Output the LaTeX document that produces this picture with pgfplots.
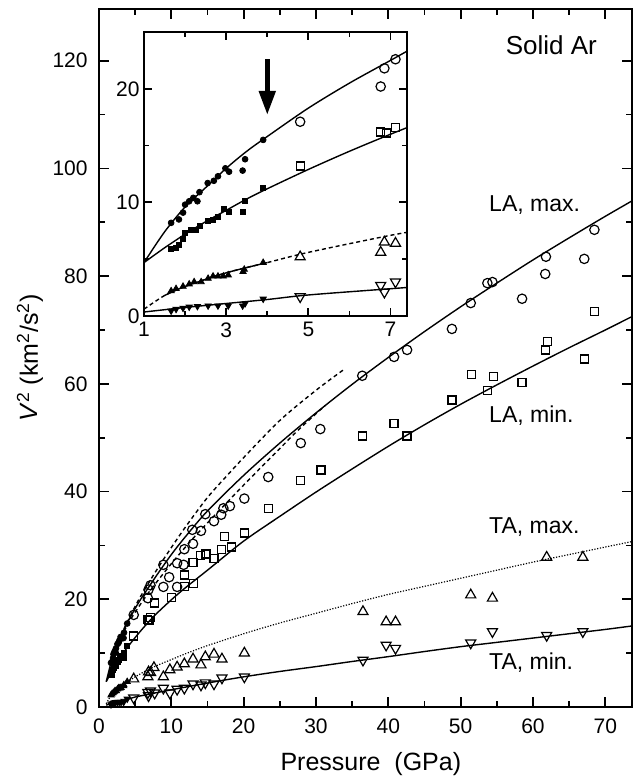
\documentclass[border=0pt]{standalone}
\usepackage{fontspec}
\setmainfont{Liberation Sans}
\usepackage{pgfplots}
\usepackage{pgfplotstable}
\pgfplotsset{compat=1.18}
\usetikzlibrary{arrows.meta}

% ---------- fitted curves ----------
\pgfplotstableread{
x y
1 4.7
1.5 7.4
2 9.6
2.5 11.3
3 13.0
3.5 14.5
4 15.8
5 18.3
6 20.5
7 22.5
8 24.5
10 28.3
12 31.7
15 36.4
20 43.0
25 49.0
30 54.6
35 59.9
40 64.9
45 69.7
50 74.3
55 78.7
60 83.0
65 87.1
70 91.1
74 94.2
}\lamaxfit
\pgfplotstableread{
x y
1 4.7
1.5 6.0
2 7.2
2.5 8.3
3 9.3
3.5 10.3
4 11.2
5 12.9
6 14.5
7 16.0
8 17.4
10 19.9
12 22.2
15 25.4
20 30.8
25 35.4
30 39.9
35 44.2
40 48.4
45 52.4
50 56.2
55 59.8
60 63.3
65 66.7
70 70.0
74 72.7
}\laminfit
\pgfplotstableread{
x y
3 13.3
4 16.0
5 18.7
6 21.1
8 25.5
10 29.6
12 33.5
15 38.9
18 43.4
20 46.3
25 53.2
30 58.8
33.8 62.6
}\dashup
\pgfplotstableread{
x y
3 12.9
4 15.4
5 17.6
7 21.5
10 26.6
13 31.3
16 35.6
20 41.2
25 48.0
28 52.0
31.3 56.0
}\dashlow
\pgfplotstableread{
x y
1 0.6
1.5 1.8
2 2.6
3 3.8
4 4.7
5 5.6
7 7.1
8 7.7
10 8.8
12 9.9
15 11.4
20 13.6
25 15.6
30 17.4
35 19.2
40 20.9
45 22.4
50 23.9
55 25.4
60 26.9
65 28.3
70 29.7
74 30.8
}\tamaxfit
\pgfplotstableread{
x y
1.5 1.8
2 2.6
3 3.8
4 4.7
}\tamaxseg
\pgfplotstableread{
x y
1 0.35
2 0.75
3 1.1
4 1.45
5 1.85
7 2.4
10 3.2
15 4.45
20 5.6
25 6.6
30 7.5
35 8.45
40 9.35
45 10.3
50 11.2
55 12.0
60 12.8
65 13.6
70 14.4
74 15.1
}\taminfit

% ---------- filled data (low pressure) ----------
\pgfplotstableread{
x y
1.66 8.2
1.85 8.5
1.95 9.1
2.0 9.8
2.1 10.1
2.2 10.4
2.3 10.1
2.35 10.9
2.55 11.7
2.7 11.9
2.8 12.3
2.98 13.0
3.07 12.7
3.4 12.8
3.46 13.8
3.9 15.5
}\lamaxfilled
\pgfplotstableread{
x y
1.66 5.9
1.78 6.0
1.85 6.3
1.95 6.8
2.0 7.3
2.15 7.6
2.27 7.6
2.37 7.9
2.55 8.4
2.68 8.5
2.8 8.7
2.95 9.4
3.07 9.2
3.4 9.2
3.46 10.1
3.9 11.3
}\laminfilled
\pgfplotstableread{
x y
1.66 2.2
1.78 2.4
1.95 2.6
2.1 2.8
2.22 3.0
2.39 3.0
2.56 3.3
2.68 3.5
2.8 3.5
2.93 3.5
3.05 3.6
3.41 3.9
3.44 4.1
3.9 4.7
}\tamaxfilled
\pgfplotstableread{
x y
1.66 0.45
1.78 0.6
1.95 0.7
2.1 0.8
2.3 0.85
2.56 0.9
2.8 0.9
3.05 0.9
3.4 0.9
3.46 1.1
3.9 1.5
}\taminfilled

% ---------- open data ----------
\pgfplotstableread{
x y
4.8 17.1
6.76 20.2
6.85 21.8
7.12 22.6
8.9 26.4
8.9 22.3
9.7 24.1
10.8 26.7
10.8 22.3
11.7 26.4
11.8 29.3
12.9 32.9
13.0 30.3
14.1 32.7
14.7 35.8
15.9 34.5
16.9 35.7
17.2 36.9
18.1 37.3
20.1 38.7
23.4 42.7
27.9 49.0
30.6 51.6
36.4 61.5
40.8 65.0
42.6 66.3
48.8 70.2
51.4 75.0
53.7 78.7
54.4 78.9
58.5 75.8
61.7 80.4
61.8 83.6
67.1 83.2
68.5 88.6
}\lamaxopen
\pgfplotstableread{
x y
4.8 13.2
6.76 16.2
6.9 16.1
7.12 16.6
7.7 19.3
10.0 20.4
11.8 22.3
11.8 24.5
13.1 23.0
13.0 26.9
14.0 28.2
14.8 28.4
15.9 27.5
16.9 29.2
17.3 31.6
18.3 29.7
20.1 32.3
23.4 36.8
27.9 42.0
30.7 44.0
36.4 50.3
40.8 52.7
42.6 50.3
48.8 57.0
51.5 61.7
53.7 58.7
54.5 61.3
58.5 60.2
61.7 66.3
62.0 67.8
67.1 64.6
68.5 73.4
}\laminopen
\pgfplotstableread{
x y
4.8 5.2
6.76 5.6
6.85 6.5
7.12 6.4
7.6 7.3
8.9 5.6
9.8 6.9
10.8 7.4
11.8 8.0
13.0 8.9
14.1 7.8
14.7 9.3
15.9 9.8
17.0 8.9
20.1 10.0
36.5 17.7
39.7 15.8
41.0 15.8
51.4 20.8
54.4 20.2
61.9 27.8
66.9 27.8
}\tamaxopen
\pgfplotstableread{
x y
4.8 1.7
6.76 2.7
6.85 2.1
7.12 3.0
7.7 2.6
8.9 3.5
9.8 2.6
10.8 3.3
11.8 3.5
13.0 4.3
14.1 4.1
14.7 4.5
15.9 4.3
17.0 5.4
20.1 5.6
36.5 8.7
39.7 11.5
41.0 10.9
51.4 11.9
54.4 14.0
61.9 13.3
66.9 14.0
}\taminopen

\pgfplotsset{
  opencirc/.style={only marks, mark=o, mark size=2.35pt, mark options={line width=0.6pt, black}},
  opensq/.style={only marks, mark=square, mark size=2.0pt, mark options={line width=0.6pt, black}},
  opentri/.style={only marks, mark=triangle, mark size=2.9pt, mark options={line width=0.6pt, black}},
  openinv/.style={only marks, mark=triangle, mark size=2.9pt, mark options={line width=0.6pt, black, rotate=180}},
  fillcirc/.style={only marks, mark=*, mark size=1.45pt, mark options={black}},
  fillsq/.style={only marks, mark=square*, mark size=1.25pt, mark options={black}},
  filltri/.style={only marks, mark=triangle*, mark size=1.8pt, mark options={black}},
  fillinv/.style={only marks, mark=triangle*, mark size=1.8pt, mark options={black, rotate=180}},
  fitline/.style={black, line width=0.7pt, smooth, no marks},
}

\begin{document}
\begin{tikzpicture}
\begin{axis}[
  name=main,
  at={(0pt,0pt)}, anchor=south west,
  scale only axis, width=266.5pt, height=349pt,
  xmin=0, xmax=73.7, ymin=0, ymax=129.6,
  xtick={0,10,...,70}, minor xtick={5,15,...,75},
  ytick={0,20,...,120}, minor ytick={10,30,...,130},
  tick align=inside, major tick length=5pt, minor tick length=3pt,
  every tick/.style={black, line width=0.9pt},
  axis line style={line width=1.1pt},
  /pgf/number format/assume math mode=true,
  tick label style={font=\fontsize{10.5}{12}\selectfont},
  xticklabel style={anchor=north, inner sep=0pt, yshift=-5.5pt},
  yticklabel style={anchor=east, inner sep=0pt, xshift=-5.5pt},
  xlabel={Pressure\ \ (GPa)},
  xlabel style={at={(axis description cs:0.51,0)}, anchor=base, yshift=-31.5pt, inner sep=0pt, font=\fontsize{12.5}{15}\selectfont},
  ylabel={\textit{V}\textsuperscript{2} (km\textsuperscript{2}/s\textsuperscript{2})},
  every axis y label/.style={at={(axis description cs:-0.1295,0.5)}, rotate=90, anchor=center, font=\fontsize{12.5}{15}\selectfont},
]
% fitted curves
\addplot[fitline] table {\lamaxfit};
\addplot[fitline] table {\laminfit};
\addplot[fitline, dash pattern=on 2pt off 1.6pt] table {\dashup};
\addplot[fitline, dash pattern=on 2pt off 1.6pt] table {\dashlow};
\addplot[fitline, line width=0.6pt, dash pattern=on 0.6pt off 0.8pt] table {\tamaxfit};
\addplot[fitline] table {\taminfit};
% filled points
\addplot[fillcirc] table {\lamaxfilled};
\addplot[fillsq] table {\laminfilled};
\addplot[filltri] table {\tamaxfilled};
\addplot[fillinv] table {\taminfilled};
% open points
\addplot[opencirc] table {\lamaxopen};
\addplot[opensq] table {\laminopen};
\addplot[opentri] table {\tamaxopen};
\addplot[openinv] table {\taminopen};
% labels
\node[anchor=base west, inner sep=0pt, font=\fontsize{13}{15}\selectfont] at (axis cs:56.2,121.1) {Solid Ar};
\node[anchor=base west, inner sep=0pt, font=\fontsize{11.5}{14}\selectfont] at (axis cs:53.9,92.0) {LA, max.};
\node[anchor=base west, inner sep=0pt, font=\fontsize{11.5}{14}\selectfont] at (axis cs:53.9,52.9) {LA, min.};
\node[anchor=base west, inner sep=0pt, font=\fontsize{11.5}{14}\selectfont] at (axis cs:53.9,32.3) {TA, max.};
\node[anchor=base west, inner sep=0pt, font=\fontsize{11.5}{14}\selectfont] at (axis cs:53.9,6.9) {TA, min.};
\end{axis}

\begin{axis}[
  name=inset,
  at={(22.5pt,195.5pt)}, anchor=south west,
  scale only axis, width=131.5pt, height=142pt,
  xmin=1, xmax=7.4, ymin=0, ymax=25,
  xtick={1,3,5,7}, minor xtick={2,4,6},
  ytick={0,10,20}, minor ytick={5,15},
  tick align=inside, major tick length=4pt, minor tick length=2.5pt,
  every tick/.style={black, line width=0.9pt},
  axis line style={line width=1.1pt},
  axis background/.style={fill=white},
  /pgf/number format/assume math mode=true,
  tick label style={font=\fontsize{10.5}{12}\selectfont},
  xticklabel style={anchor=north, inner sep=0pt, yshift=-3pt},
  yticklabel style={anchor=east, inner sep=0pt, xshift=-2pt},
]
\addplot[fitline] table {\lamaxfit};
\addplot[fitline] table {\laminfit};
\addplot[fitline, dash pattern=on 2pt off 1.5pt] table {\tamaxfit};
\addplot[fitline] table {\tamaxseg};
\addplot[fitline] table {\taminfit};
\addplot[fillcirc] table {\lamaxfilled};
\addplot[fillsq] table {\laminfilled};
\addplot[filltri] table {\tamaxfilled};
\addplot[fillinv] table {\taminfilled};
\addplot[opencirc, restrict x to domain=0:7.3] table {\lamaxopen};
\addplot[opensq, restrict x to domain=0:7.3] table {\laminopen};
\addplot[opentri, restrict x to domain=0:7.3] table {\tamaxopen};
\addplot[openinv, restrict x to domain=0:7.3] table {\taminopen};
\draw[line width=2.4pt, -{Triangle[length=12pt,width=8pt]}] (axis cs:4,22.6) -- (axis cs:4,17.7);
\end{axis}

\pgfresetboundingbox
\path[use as bounding box] (-49.5pt,-36pt) rectangle (267pt,353.5pt);
\end{tikzpicture}
\end{document}
